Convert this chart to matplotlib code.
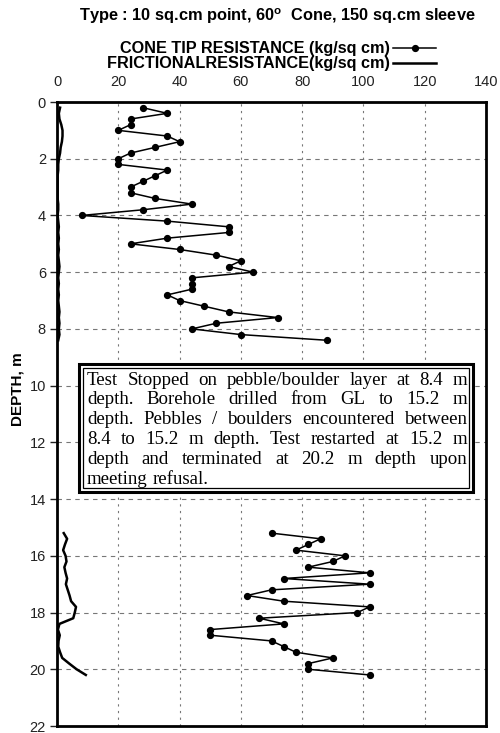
import matplotlib
matplotlib.use("Agg")
from matplotlib import pyplot as plt
from matplotlib.patches import Rectangle

plt.rcParams['font.family'] = ['Liberation Sans', 'DejaVu Sans']

# cone tip resistance, upper part (0.2 - 8.4 m)
depth_top = [0.2, 0.4, 0.6, 0.8, 1.0, 1.2, 1.4, 1.6, 1.8, 2.0, 2.2, 2.4, 2.6, 2.8,
             3.0, 3.2, 3.4, 3.6, 3.8, 4.0, 4.2, 4.4, 4.6, 4.8, 5.0, 5.2, 5.4, 5.6,
             5.8, 6.0, 6.2, 6.4, 6.6, 6.8, 7.0, 7.2, 7.4, 7.6, 7.8, 8.0, 8.2, 8.4]
cone_top = [28, 36, 24, 24, 20, 36, 40, 32, 24, 20, 20, 36, 32, 28,
            24, 24, 32, 44, 28, 8, 36, 56, 56, 36, 24, 40, 52, 60,
            56, 64, 44, 44, 44, 36, 40, 48, 56, 72, 52, 44, 60, 88]
fric_top = [1.0, 0.6, 0.8, 1.4, 1.8, 1.8, 1.6, 1.2, 1.0, 0.6, 0.4, 0.4, 0.2, 0.2,
            0.2, 0.2, 0.2, 0.4, 0.4, 0.2, 0.4, 0.6, 0.4, 0.6, 0.4, 0.6, 0.4, 0.6,
            0.8, 0.6, 0.4, 0.6, 0.4, 0.6, 0.4, 0.6, 0.8, 0.6, 0.8, 0.6, 0.8, 0.4]

# lower part after restart (15.2 - 20.2 m)
depth_bot = [15.2, 15.4, 15.6, 15.8, 16.0, 16.2, 16.4, 16.6, 16.8, 17.0, 17.2, 17.4, 17.6,
             17.8, 18.0, 18.2, 18.4, 18.6, 18.8, 19.0, 19.2, 19.4, 19.6, 19.8, 20.0, 20.2]
cone_bot = [70, 86, 82, 78, 94, 90, 82, 102, 74, 102, 70, 62, 74,
            102, 98, 66, 74, 50, 50, 70, 74, 78, 90, 82, 82, 102]
fric_bot = [2.2, 3.3, 2.6, 2.0, 2.8, 3.1, 2.4, 2.8, 3.3, 2.9, 3.5, 4.1, 4.6,
            6.2, 5.8, 5.3, 0.8, 0.3, 0.9, 0.5, 0.4, 1.0, 1.7, 4.0, 6.4, 9.4]

x_ticks = [0, 20, 40, 60, 80, 100, 120, 140]
y_ticks = [0, 2, 4, 6, 8, 10, 12, 14, 16, 18, 20, 22]

note_lines = ["Test Stopped on pebble/boulder layer at 8.4 m",
              "depth. Borehole drilled from GL to 15.2 m",
              "depth. Pebbles / boulders encountered between",
              "8.4 to 15.2 m depth. Test restarted at 15.2 m",
              "depth and terminated at 20.2 m depth upon",
              "meeting refusal."]

W, H = 500, 733
fig = plt.figure(figsize=(5, 7.33), dpi=100)
ax = fig.add_axes([57 / W, 1 - 726 / H, (486 - 57) / W, (726 - 102) / H])

ax.plot(cone_top, depth_top, color='black', lw=1.1, marker='o', ms=4.2,
        label='CONE TIP RESISTANCE (kg/sq cm)')
ax.plot(cone_bot, depth_bot, color='black', lw=1.1, marker='o', ms=4.2)
ax.plot(fric_top, depth_top, color='black', lw=1.8,
        label='FRICTIONALRESISTANCE(kg/sq cm)')
ax.plot(fric_bot, depth_bot, color='black', lw=1.8)

ax.set_xlim(0, 140)
ax.set_ylim(22, 0)
ax.set_xticks(x_ticks)
ax.set_yticks(y_ticks)
ax.xaxis.tick_top()
ax.tick_params(axis='x', length=0, pad=9, labelsize=10.5, colors='#222222')
ax.tick_params(axis='y', length=5, width=1, pad=3, labelsize=10.5, colors='#222222')
for s in ax.spines.values():
    s.set_linewidth(2)
ax.xaxis.grid(True, color='#777777', lw=0.8, ls=(0, (2, 4)))
ax.yaxis.grid(True, color='#777777', lw=0.8, ls=(0, (4, 4)))
ax.set_axisbelow(True)

leg = ax.legend(loc='lower center', bbox_to_anchor=(0.5, 1.036), frameon=False,
                markerfirst=False, handlelength=2.6, handletextpad=0.2,
                labelspacing=0.0, borderpad=0,
                prop={'weight': 'bold', 'size': 11.7})

fig.text(277 / W, 1 - 16 / H, "Type : 10 sq.cm point, 60$^\\mathregular{o}$  Cone, 150 sq.cm sleeve",
         ha='center', va='center', fontsize=11.8, fontweight='bold')
fig.text(18 / W, 1 - 389 / H, "DEPTH, m", rotation=90, ha='center', va='center',
         fontsize=11, fontweight='bold')

# note box with double border
bx0, bx1, by0, by1 = 79, 473, 364, 492
fig.patches.append(Rectangle((bx0 / W, 1 - by1 / H), (bx1 - bx0) / W, (by1 - by0) / H,
                             transform=fig.transFigure, facecolor='white',
                             edgecolor='black', lw=2.2, zorder=5))
fig.patches.append(Rectangle(((bx0 + 4) / W, 1 - (by1 - 4) / H), (bx1 - bx0 - 8) / W,
                             (by1 - by0 - 8) / H, transform=fig.transFigure,
                             facecolor='none', edgecolor='black', lw=0.9, zorder=6))

# justified text inside the box
renderer = fig.canvas.get_renderer()
left, right = 87, 467
fs = 13.6
for i, line in enumerate(note_lines):
    yc = 1 - (380 + 20 * i) / H
    words = line.split(' ')
    texts = [fig.text(0, yc, w, ha='left', va='center', fontsize=fs,
                      family='Liberation Serif', zorder=7) for w in words]
    widths = [t.get_window_extent(renderer).width for t in texts]
    if i < len(note_lines) - 1 and len(words) > 1:
        gap = (right - left - sum(widths)) / (len(words) - 1)
    else:
        gap = renderer.points_to_pixels(fs) * 0.25
    x = left
    for t, w in zip(texts, widths):
        t.set_x(x / W)
        x += w + gap

fig.savefig('out.png', dpi=100)
